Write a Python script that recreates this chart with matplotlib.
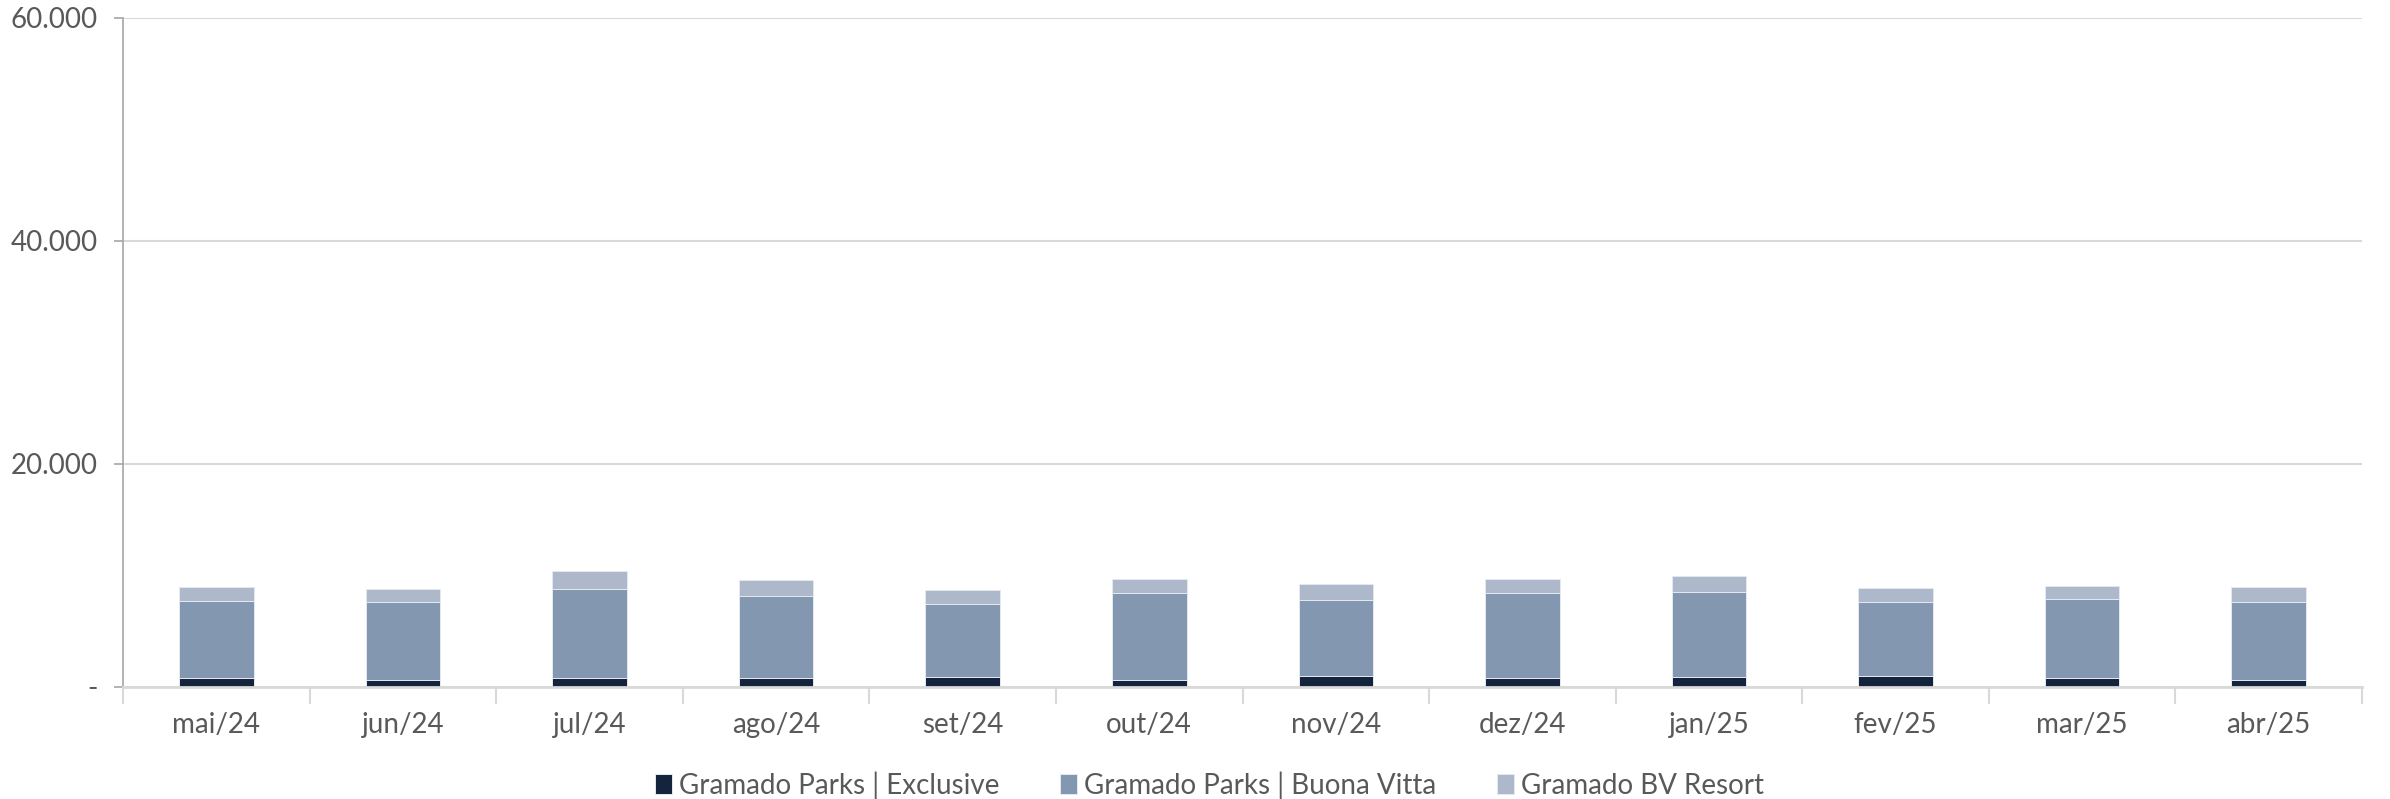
import matplotlib.pyplot as plt
import numpy as np

months = ['mai/24', 'jun/24', 'jul/24', 'ago/24', 'set/24', 'out/24',
          'nov/24', 'dez/24', 'jan/25', 'fev/25', 'mar/25', 'abr/25']
exclusive = [800, 650, 800, 800, 900, 650, 1000, 800, 900, 1000, 830, 650]
buona_vitta = [6900, 6990, 7970, 7350, 6560, 7740, 6820, 7640, 7630, 6630, 7070, 6990]
bv_resort = [1250, 1160, 1640, 1430, 1200, 1310, 1460, 1260, 1380, 1250, 1170, 1340]

series_names = ['Gramado Parks | Exclusive', 'Gramado Parks | Buona Vitta', 'Gramado BV Resort']
colors = ['#14243c', '#8497b0', '#adb9ca']

plt.rcParams['font.family'] = ['Lato', 'DejaVu Sans']

fig = plt.figure(figsize=(23.9, 7.99), dpi=100)
ax = fig.add_axes([0.0515, 0.1402, 0.9368, 0.8373])

x = np.arange(len(months))
bottom = np.zeros(len(months))
for name, vals, c in zip(series_names, [exclusive, buona_vitta, bv_resort], colors):
    ax.bar(x, vals, width=0.4, bottom=bottom, color=c, edgecolor='#e4e9f0',
           linewidth=0.7, label=name, zorder=3)
    bottom += np.array(vals)

ax.set_xlim(-0.5, len(months) - 0.5)
ax.set_ylim(0, 60000)
ax.set_yticks([0, 20000, 40000, 60000])
ax.set_yticklabels(['-', '20.000', '40.000', '60.000'])
ax.yaxis.grid(True, color='#d9d9d9', linewidth=1.5, zorder=0)

ax.set_xticks(x)
ax.set_xticklabels(months)
ax.set_xticks(np.arange(-0.5, len(months)), minor=True)
ax.tick_params(axis='x', which='major', length=0, pad=18, labelsize=20, labelcolor='#595959')
ax.tick_params(axis='x', which='minor', length=12, width=1.5, color='#d9d9d9')
ax.tick_params(axis='y', length=6.5, width=1.2, color='#a6a6a6', pad=12,
               labelsize=20, labelcolor='#595959')

for s in ['top', 'right']:
    ax.spines[s].set_visible(False)
ax.spines['left'].set_color('#a6a6a6')
ax.spines['left'].set_linewidth(1.2)
ax.spines['bottom'].set_color('#d9d9d9')
ax.spines['bottom'].set_linewidth(2)
ax.spines['bottom'].set_zorder(4)

fig.legend(loc='center', bbox_to_anchor=(0.506, 0.0175), ncol=3, frameon=False,
           fontsize=20, handlelength=0.6, handleheight=0.7, handletextpad=0.25,
           columnspacing=2.2, labelcolor='#595959')

fig.savefig('out.png', dpi=100)
